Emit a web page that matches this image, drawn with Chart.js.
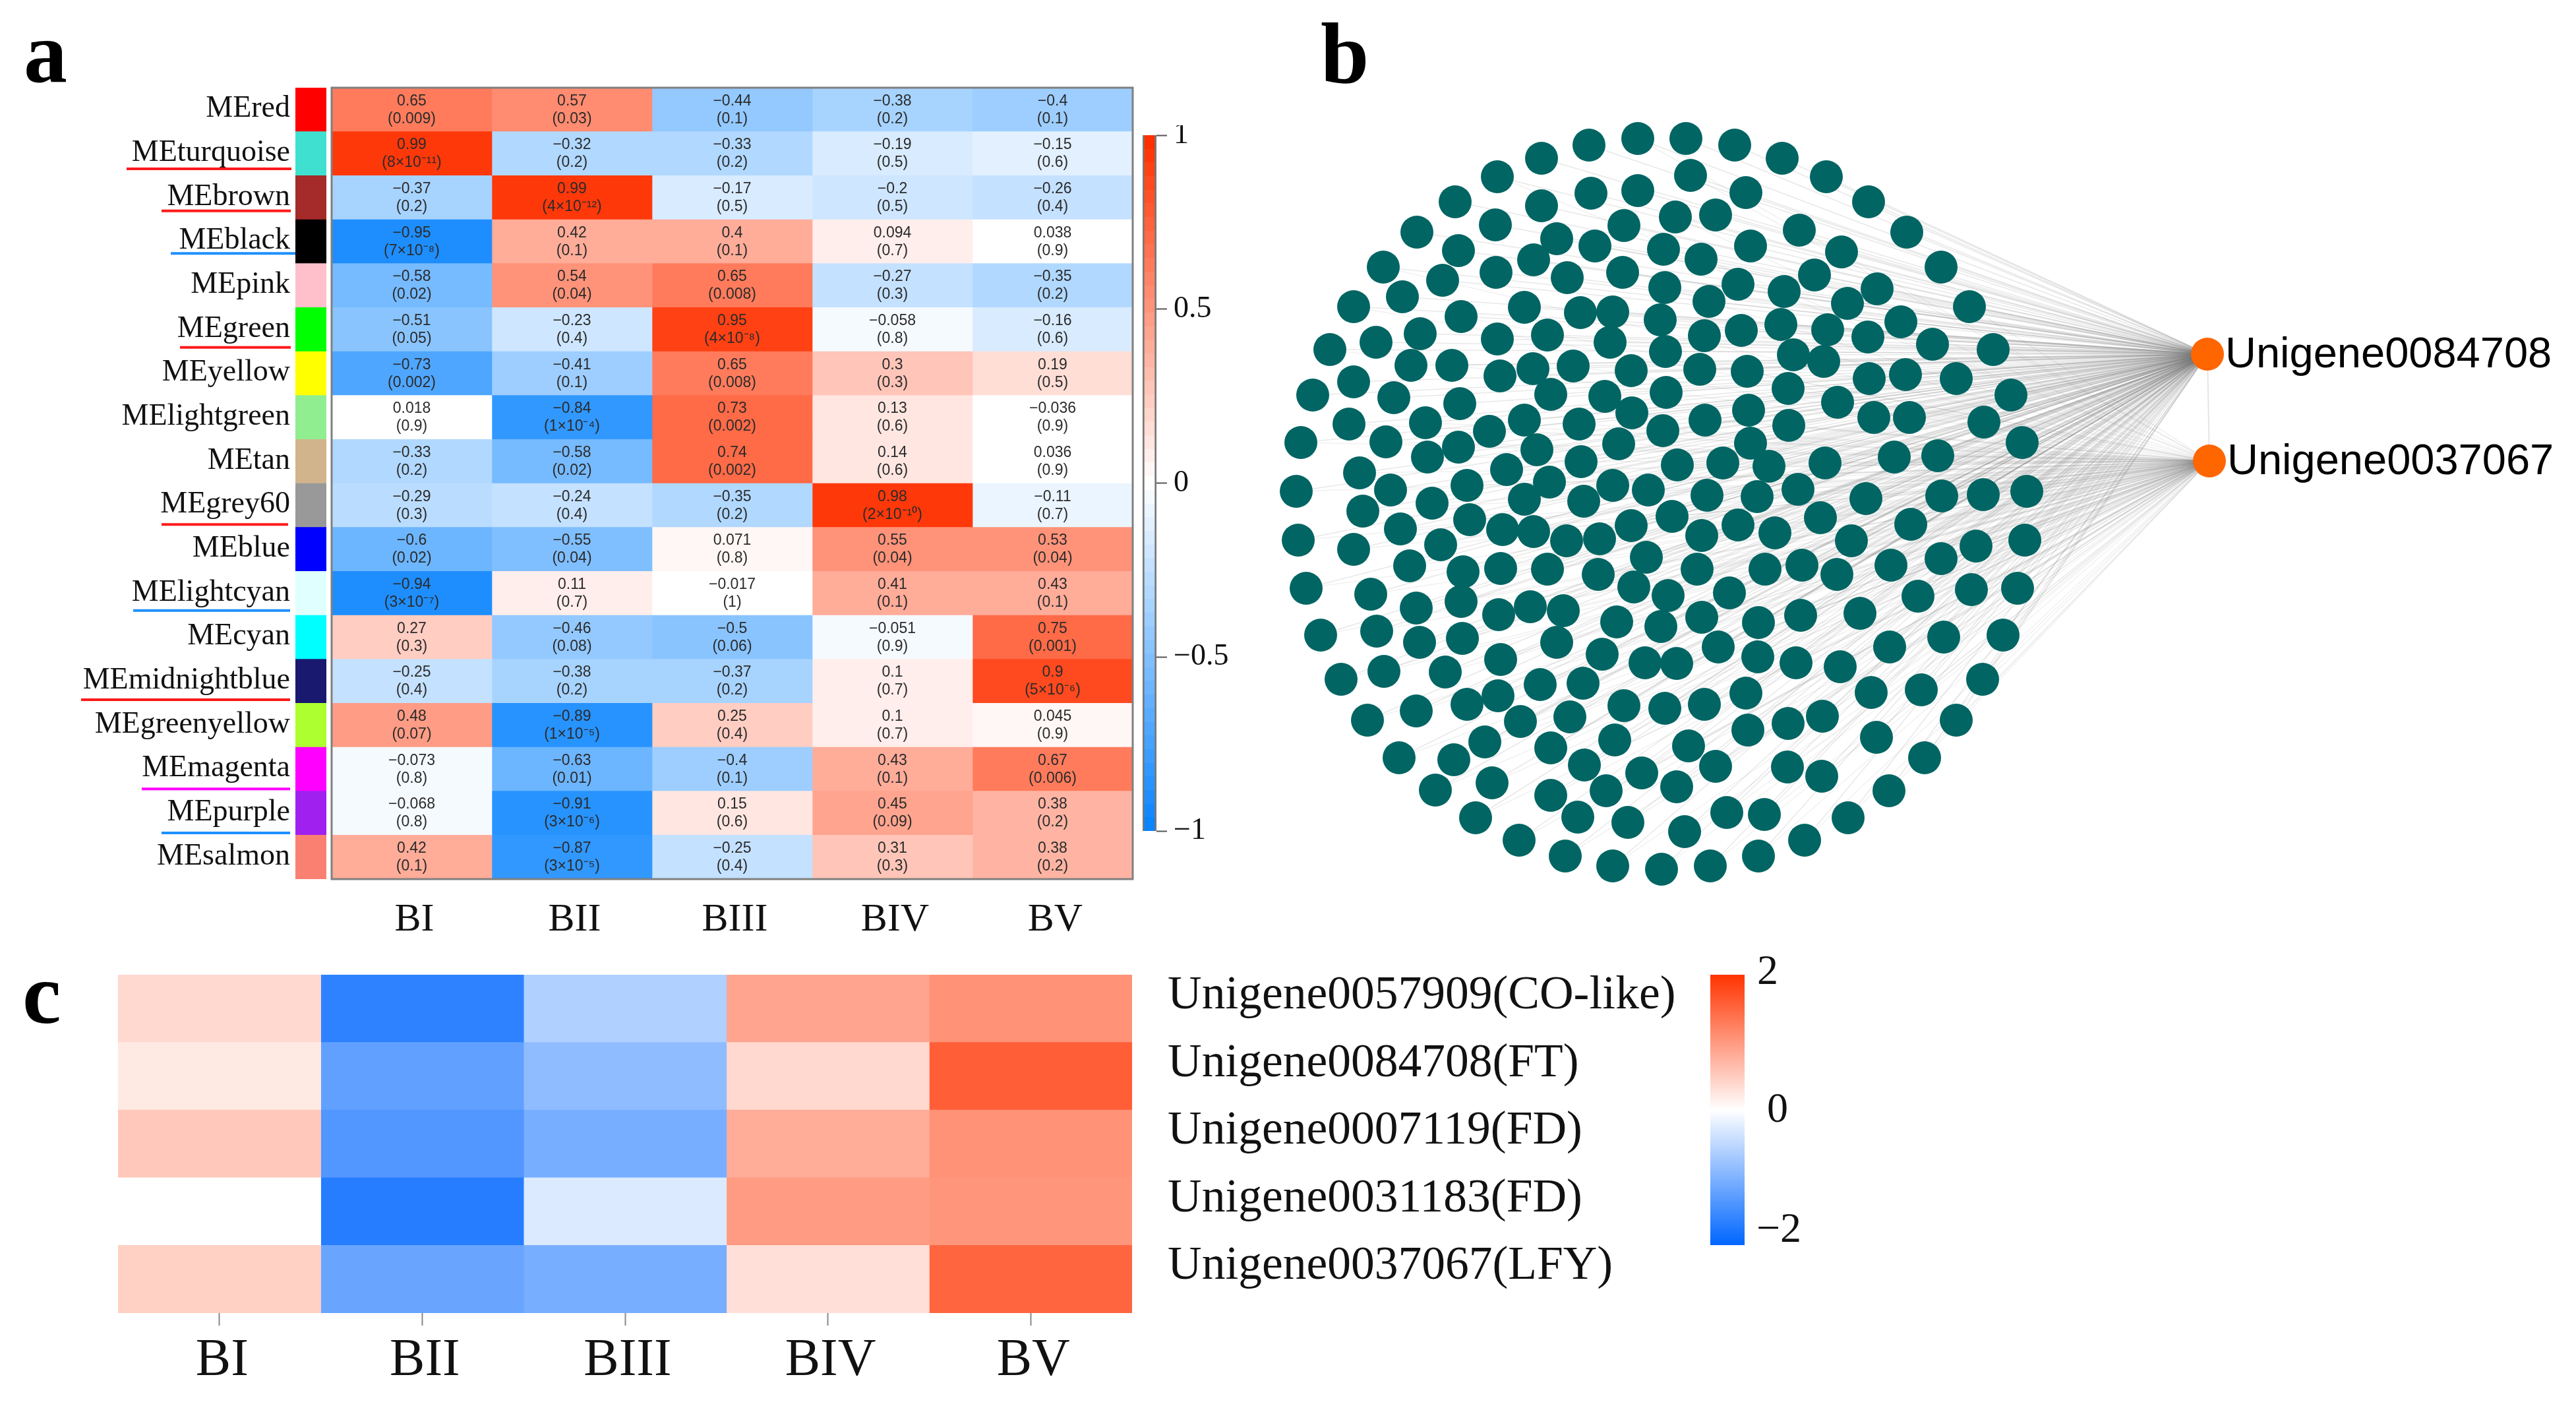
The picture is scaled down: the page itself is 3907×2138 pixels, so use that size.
<!DOCTYPE html>
<html>
<head>
<meta charset="utf-8">
<title>Module trait heatmap and network</title>
<script src="https://cdn.jsdelivr.net/npm/chart.js@4"></script>
<style>
  html, body { margin: 0; padding: 0; background: #fff; }
  #page { position: relative; width: 3907px; height: 2138px; overflow: hidden; background: #fff; }
  canvas { position: absolute; }
  .panel { position: absolute; font: bold 132px "Liberation Serif", serif; line-height: 1; color: #000; }
</style>
</head>
<body>
<div id="page">
  <canvas id="stripA" style="left:0;top:120px" width="495" height="1340"></canvas>
  <canvas id="heatA" style="left:490px;top:120px" width="1240" height="1340"></canvas>
  <canvas id="barA" style="left:1725px;top:190px" width="200" height="1090"></canvas>
  <canvas id="network" style="left:1900px;top:150px" width="2007" height="1250"></canvas>
  <canvas id="heatC" style="left:0;top:1440px" width="2560" height="698"></canvas>
  <canvas id="barC" style="left:2560px;top:1440px" width="200" height="470"></canvas>
  <div class="panel" style="left:36px;top:14px">a</div>
  <div class="panel" style="left:2003px;top:15px">b</div>
  <div class="panel" style="left:34px;top:1441px">c</div>
</div>
<script>
// panel a
var stages = ["BI", "BII", "BIII", "BIV", "BV"];
var modules = ["MEred", "MEturquoise", "MEbrown", "MEblack", "MEpink", "MEgreen", "MEyellow", "MElightgreen", "MEtan",
  "MEgrey60", "MEblue", "MElightcyan", "MEcyan", "MEmidnightblue", "MEgreenyellow", "MEmagenta", "MEpurple", "MEsalmon"];
var moduleColours = ["#ff0000", "#40e0d0", "#a52a2a", "#000000", "#ffc0cb", "#00ff00", "#ffff00", "#90ee90", "#d2b48c",
  "#999999", "#0000ff", "#e0ffff", "#00ffff", "#191970", "#adff2f", "#ff00ff", "#a020f0", "#fa8072"];

var corrBI = [0.65, 0.99, -0.37, -0.95, -0.58, -0.51, -0.73, 0.018, -0.33, -0.29, -0.6, -0.94, 0.27, -0.25, 0.48, -0.073, -0.068, 0.42];
var corrBII = [0.57, -0.32, 0.99, 0.42, 0.54, -0.23, -0.41, -0.84, -0.58, -0.24, -0.55, 0.11, -0.46, -0.38, -0.89, -0.63, -0.91, -0.87];
var corrBIII = [-0.44, -0.33, -0.17, 0.4, 0.65, 0.95, 0.65, 0.73, 0.74, -0.35, 0.071, -0.017, -0.5, -0.37, 0.25, -0.4, 0.15, -0.25];
var corrBIV = [-0.38, -0.19, -0.2, 0.094, -0.27, -0.058, 0.3, 0.13, 0.14, 0.98, 0.55, 0.41, -0.051, 0.1, 0.1, 0.43, 0.45, 0.31];
var corrBV = [-0.4, -0.15, -0.26, 0.038, -0.35, -0.16, 0.19, -0.036, 0.036, -0.11, 0.53, 0.43, 0.75, 0.9, 0.045, 0.67, 0.38, 0.38];

var pBI = ["0.009", "8×10⁻¹¹", "0.2", "7×10⁻⁸", "0.02", "0.05", "0.002", "0.9", "0.2", "0.3", "0.02", "3×10⁻⁷", "0.3", "0.4", "0.07", "0.8", "0.8", "0.1"];
var pBII = ["0.03", "0.2", "4×10⁻¹²", "0.1", "0.04", "0.4", "0.1", "1×10⁻⁴", "0.02", "0.4", "0.04", "0.7", "0.08", "0.2", "1×10⁻⁵", "0.01", "3×10⁻⁶", "3×10⁻⁵"];
var pBIII = ["0.1", "0.2", "0.5", "0.1", "0.008", "4×10⁻⁸", "0.008", "0.002", "0.002", "0.2", "0.8", "1", "0.06", "0.2", "0.4", "0.1", "0.6", "0.4"];
var pBIV = ["0.2", "0.5", "0.5", "0.7", "0.3", "0.8", "0.3", "0.6", "0.6", "2×10⁻¹⁰", "0.04", "0.1", "0.9", "0.7", "0.7", "0.1", "0.09", "0.3"];
var pBV = ["0.1", "0.6", "0.4", "0.9", "0.2", "0.6", "0.5", "0.9", "0.9", "0.7", "0.04", "0.1", "0.001", "5×10⁻⁶", "0.9", "0.006", "0.2", "0.2"];

var corrColumns = [corrBI, corrBII, corrBIII, corrBIV, corrBV];
var pColumns = [pBI, pBII, pBIII, pBIV, pBV];
var corrTicks = [1, 0.5, 0, -0.5, -1];

// panel b, node positions as they sit in the network layout
var nodeX = [2484, 2557, 2410, 2631, 2338, 2703, 2271, 2770, 2207, 2834, 2149, 2892, 2564, 2484, 2413, 2648, 2338, 2602, 2541, 2463,
  2268, 2729, 2361, 2419, 2523, 2655, 2212, 2793, 2326, 2580, 2098, 2269, 2188, 2461, 2752, 2377, 2525, 2636, 2847, 2706,
  2127, 2802, 2053, 2592, 2312, 2446, 2397, 2518, 2216, 2701, 2883, 2772, 2154, 2271, 2641, 2347, 2585, 2833, 2442, 2087,
  2017, 2526, 2720, 2766, 2140, 2202, 2386, 2325, 2578, 2053, 2275, 2474, 2650, 2835, 2890, 1991, 2114, 2527, 2712, 2352,
  2434, 2214, 2787, 2652, 2475, 2842, 2896, 2162, 2046, 2312, 2586, 2259, 2522, 2713, 2395, 2102, 1973, 2212, 2655, 2455,
  2331, 2165, 2398, 2544, 2613, 2683, 2768, 2873, 2062, 1966, 2109, 2285, 2350, 2225, 2312, 2172, 2402, 2446, 2500, 2589,
  2665, 2727, 2830, 2067, 2229, 2124, 2279, 2326, 2536, 2636, 2474, 2761, 2898, 2692, 2376, 2426, 1969, 2185, 2581, 2808,
  2053, 2497, 2138, 2276, 2347, 2219, 2574, 2677, 2733, 2786, 2868, 2424, 1981, 2478, 2530, 2079, 2623, 2216, 2148, 2321,
  2371, 2731, 2821, 2273, 2581, 2452, 2519, 2667, 2088, 2003, 2153, 2218, 2361, 2606, 2866, 2430, 2276, 2495, 2543, 2666,
  2724, 2791, 2099, 2192, 2034, 2336, 2401, 2648, 2838, 2272, 2463, 2225, 2585, 2525, 2148, 2381, 2306, 2712, 2764, 2651,
  2074, 2846, 2449, 2252, 2561, 2352, 2122, 2205, 2711, 2403, 2602, 2490, 2763, 2263, 2436, 2543, 2177, 2865, 2352, 2619,
  2676, 2238, 2393, 2469, 2803, 2555, 2304, 2737, 2667, 2374, 2446, 2594, 2520, 2944, 2987, 3023, 3050, 3067, 3074, 3071,
  3060, 3038, 2931, 2967, 3009, 2939, 2945, 3008, 2997, 2944, 2909, 2990, 2948, 3007, 2967, 2919, 2914];
var nodeY = [210, 210, 220, 220, 240, 240, 268, 268, 306, 306, 352, 352, 266, 289, 293, 292, 312, 326, 329, 342,
  341, 349, 362, 373, 378, 373, 380, 382, 394, 393, 405, 413, 425, 413, 417, 421, 436, 431, 438, 442,
  450, 460, 465, 457, 466, 473, 474, 485, 480, 492, 488, 500, 506, 514, 501, 508, 509, 511, 519, 519,
  530, 533, 538, 548, 554, 554, 555, 559, 560, 579, 570, 562, 563, 574, 568, 599, 603, 595, 589, 598,
  601, 612, 610, 622, 626, 633, 633, 641, 643, 637, 637, 654, 653, 645, 643, 670, 671, 678, 672, 673,
  682, 693, 700, 705, 702, 707, 702, 693, 717, 745, 743, 712, 731, 736, 757, 763, 760, 736, 743, 751,
  753, 742, 756, 775, 788, 802, 803, 806, 783, 796, 797, 785, 795, 808, 820, 817, 819, 826, 812, 820,
  833, 845, 858, 862, 863, 867, 863, 863, 857, 871, 857, 871, 892, 890, 903, 901, 899, 912, 922, 920,
  926, 933, 930, 932, 936, 943, 950, 944, 957, 963, 974, 968, 974, 981, 981, 992, 1000, 1005, 1006, 996,
  1005, 1011, 1018, 1019, 1030, 1038, 1036, 1051, 1050, 1055, 1070, 1068, 1068, 1074, 1078, 1087, 1094, 1097, 1086, 1107,
  1092, 1118, 1122, 1125, 1131, 1134, 1149, 1152, 1163, 1160, 1162, 1172, 1177, 1187, 1199, 1193, 1198, 1199, 1206, 1232,
  1235, 1240, 1239, 1247, 1240, 1261, 1274, 1274, 1298, 1298, 1313, 1313, 1318, 405, 465, 530, 599, 671, 745, 819,
  892, 963, 522, 574, 640, 691, 752, 750, 828, 847, 904, 894, 966, 1030, 1092, 1149, 1046];
var hubNames = ["Unigene0084708", "Unigene0037067"];
var hubX = [3348, 3351];
var hubY = [537, 699];

// panel c
var genes = ["Unigene0057909(CO-like)", "Unigene0084708(FT)", "Unigene0007119(FD)", "Unigene0031183(FD)", "Unigene0037067(LFY)"];
var exprBI = [0.37, 0.22, 0.54, 0, 0.46];
var exprBII = [-1.64, -1.24, -1.36, -1.7, -1.18];
var exprBIII = [-0.62, -0.88, -1.06, -0.28, -1.06];
var exprBIV = [0.88, 0.38, 0.81, 0.98, 0.31];
var exprBV = [1.07, 1.58, 1.07, 1.03, 1.5];
var exprColumns = [exprBI, exprBII, exprBIII, exprBIV, exprBV];
var exprTicks = [2, 0, -2];

var SERIF = '"Liberation Serif", serif';
var SANS = '"Liberation Sans", sans-serif';

Chart.defaults.animation = false;
Chart.defaults.responsive = false;
Chart.defaults.devicePixelRatio = 1;
Chart.defaults.events = [];
Chart.defaults.layout.autoPadding = false;
Chart.defaults.plugins.legend.display = false;
Chart.defaults.plugins.tooltip.enabled = false;

function mix(from, to, t) {
  var c = [0, 1, 2].map(function (i) { return Math.round(from[i] + (to[i] - from[i]) * t); });
  return "rgb(" + c.join(",") + ")";
}

// the published colour key moves in 25 steps each way from white
function corrColour(v) {
  var level = Math.trunc(v / 0.04) * 0.04;
  if (level >= 0) return mix([255, 255, 255], [255, 48, 0], Math.min(level, 1));
  return mix([255, 255, 255], [10, 132, 255], Math.min(-level, 1));
}

function exprColour(v) {
  if (v >= 0) return mix([255, 255, 255], [255, 51, 0], v / 2);
  return mix([255, 255, 255], [0, 102, 255], -v / 2);
}

function minusText(v) {
  return String(v).replace("-", "\u2212");
}

// scales reserve room for half a label at each end, which would push the cells off their rows
function fixedWidth(w) {
  return function (scale) {
    scale.width = w;
    scale.paddingTop = 0;
    scale.paddingBottom = 0;
  };
}

function fixedHeight(h) {
  return function (scale) {
    scale.height = h;
    scale.paddingLeft = 0;
    scale.paddingRight = 0;
  };
}

// one stacked horizontal bar per row, one dataset per column
function cellDatasets(columns, colourOf) {
  return columns.map(function (col) {
    return {
      data: col.map(function () { return 1; }),
      backgroundColor: col.map(colourOf),
      borderWidth: 0,
      barPercentage: 1,
      categoryPercentage: 1
    };
  });
}

function stageAxis(extra) {
  return Object.assign({
    type: "linear", min: 0, max: stages.length, stacked: true,
    border: { display: false },
    afterBuildTicks: function (scale) {
      scale.ticks = stages.map(function (s, i) { return { value: i + 0.5 }; });
    }
  }, extra);
}

var cellText = {
  id: "cellText",
  afterDatasetsDraw: function (chart) {
    var c = chart.ctx, x = chart.scales.x, y = chart.scales.y;
    c.save();
    c.font = "23px " + SANS;
    c.fillStyle = "#2b2b2b";
    c.textAlign = "center";
    c.textBaseline = "middle";
    corrColumns.forEach(function (col, i) {
      col.forEach(function (v, r) {
        var px = x.getPixelForValue(i + 0.5), py = y.getPixelForValue(r);
        c.fillText(minusText(v), px, py - 13);
        c.fillText("(" + pColumns[i][r] + ")", px, py + 14);
      });
    });
    var a = chart.chartArea;
    c.strokeStyle = "#808080";
    c.lineWidth = 3;
    c.strokeRect(a.left, a.top, a.right - a.left, a.bottom - a.top);
    c.restore();
  }
};

// red and blue rules hand-drawn under some module names in the figure
var underlines = [
  { row: 1, colour: "#ff1a1a", left: 192, right: 442, dy: 23 },
  { row: 2, colour: "#ff1a1a", left: 245, right: 441, dy: 20 },
  { row: 3, colour: "#1e90ff", left: 259, right: 448, dy: 18 },
  { row: 5, colour: "#ff1a1a", left: 273, right: 441, dy: 27 },
  { row: 9, colour: "#ff1a1a", left: 245, right: 437, dy: 29 },
  { row: 11, colour: "#1e90ff", left: 202, right: 440, dy: 26 },
  { row: 13, colour: "#ff1a1a", left: 123, right: 440, dy: 28 },
  { row: 15, colour: "#ff00ff", left: 215, right: 440, dy: 30 },
  { row: 16, colour: "#1e90ff", left: 245, right: 440, dy: 30 }
];

var underlinePlugin = {
  id: "underlinePlugin",
  afterDraw: function (chart) {
    var c = chart.ctx, y = chart.scales.y;
    c.save();
    c.lineWidth = 4;
    underlines.forEach(function (u) {
      var py = y.getPixelForValue(u.row) + u.dy;
      c.strokeStyle = u.colour;
      c.beginPath();
      c.moveTo(u.left, py);
      c.lineTo(u.right, py);
      c.stroke();
    });
    c.restore();
  }
};

new Chart(document.getElementById("stripA"), {
  type: "bar",
  plugins: [underlinePlugin],
  data: {
    labels: modules,
    datasets: [{ data: modules.map(function () { return 1; }), backgroundColor: moduleColours, borderWidth: 0, barPercentage: 1, categoryPercentage: 1 }]
  },
  options: {
    indexAxis: "y",
    layout: { padding: { top: 13, bottom: 127, left: 0, right: 0 } },
    scales: {
      x: { display: false, min: 0, max: 1 },
      y: {
        grid: { display: false },
        border: { display: false },
        ticks: { font: { family: SERIF, size: 46 }, color: "#111", padding: 0, autoSkip: false, labelOffset: -1 },
        afterFit: fixedWidth(448)
      }
    }
  }
});

new Chart(document.getElementById("heatA"), {
  type: "bar",
  plugins: [cellText],
  data: { labels: modules, datasets: cellDatasets(corrColumns, corrColour) },
  options: {
    indexAxis: "y",
    layout: { padding: { top: 13, left: 13, right: 12, bottom: 0 } },
    scales: {
      x: stageAxis({
        grid: { display: false },
        ticks: {
          font: { family: SERIF, size: 60 }, color: "#111", padding: 18, maxRotation: 0, autoSkip: false, labelOffset: 4,
          callback: function (v) { return stages[v - 0.5]; }
        },
        afterFit: fixedHeight(127)
      }),
      y: { display: false, stacked: true }
    }
  }
});

// colour keys: a single floating bar, filled with a gradient through the chart area
function keyFill(stops) {
  return function (ctx) {
    var a = ctx.chart.chartArea;
    if (!a) return "#fff";
    var g = ctx.chart.ctx.createLinearGradient(0, a.top, 0, a.bottom);
    stops.forEach(function (s) { g.addColorStop(s[0], s[1]); });
    return g;
  };
}

var corrStops = [];
for (var k = 25; k >= -25; k--) {
  var from = (25 - k) / 51, to = (26 - k) / 51;
  var col = corrColour(k * 0.04 + (k < 0 ? -0.001 : 0.001));
  corrStops.push([from, col], [to, col]);
}

new Chart(document.getElementById("barA"), {
  type: "bar",
  data: {
    labels: ["r"],
    datasets: [{
      data: [[-1, 1]], backgroundColor: keyFill(corrStops),
      borderColor: "#777", borderWidth: { left: 3, right: 3, top: 0, bottom: 0 }, borderSkipped: false,
      barPercentage: 1, categoryPercentage: 1
    }]
  },
  options: {
    layout: { padding: { top: 15, bottom: 20, left: 8, right: 0 } },
    scales: {
      x: { display: false },
      y: {
        position: "right", min: -1, max: 1,
        border: { display: false },
        grid: { drawOnChartArea: false, tickLength: 16, tickColor: "#555", tickWidth: 2 },
        afterBuildTicks: function (scale) {
          scale.ticks = corrTicks.map(function (v) { return { value: v }; });
        },
        ticks: { font: { family: SERIF, size: 46 }, color: "#111", padding: 10, callback: minusText },
        afterFit: fixedWidth(171)
      }
    }
  }
});

// network
var geneLabels = {
  id: "geneLabels",
  afterDatasetsDraw: function (chart) {
    var c = chart.ctx, x = chart.scales.x, y = chart.scales.y;
    c.save();
    c.font = "65px " + SANS;
    c.fillStyle = "#000";
    c.textBaseline = "alphabetic";
    hubNames.forEach(function (name, i) {
      c.fillText(name, x.getPixelForValue(hubX[i]) + 27, y.getPixelForValue(hubY[i]) + 20);
    });
    c.restore();
  }
};

function edge(i, h) {
  return {
    showLine: true, pointRadius: 0, borderWidth: 1.5,
    borderColor: h == 0 ? "rgba(110,110,110,0.16)" : "rgba(120,120,120,0.10)",
    data: [{ x: nodeX[i], y: nodeY[i] }, { x: hubX[h], y: hubY[h] }]
  };
}

var edgeSets = [];
nodeX.forEach(function (x, i) {
  edgeSets.push(edge(i, 0));
  if (nodeY[i] > 640 || i % 6 == 0) edgeSets.push(edge(i, 1));
});
edgeSets.push({
  showLine: true, pointRadius: 0, borderWidth: 2, borderColor: "rgba(150,150,150,0.25)",
  data: hubX.map(function (x, i) { return { x: x, y: hubY[i] }; })
});

// the first dataset is painted last, so the nodes go ahead of the edges
new Chart(document.getElementById("network"), {
  type: "scatter",
  plugins: [geneLabels],
  data: {
    datasets: [
      {
        pointRadius: 25, pointBorderWidth: 0, backgroundColor: "#ff6600",
        data: hubX.map(function (x, i) { return { x: x, y: hubY[i] }; })
      },
      {
        pointRadius: 25, pointBorderWidth: 0, backgroundColor: "#006563",
        data: nodeX.map(function (x, i) { return { x: x, y: nodeY[i] }; })
      }
    ].concat(edgeSets)
  },
  options: {
    layout: { padding: 0 },
    scales: {
      x: { display: false, type: "linear", min: 1900, max: 3907 },
      y: { display: false, type: "linear", min: 150, max: 1400, reverse: true }
    }
  }
});

// panel c heatmap
new Chart(document.getElementById("heatC"), {
  type: "bar",
  data: { labels: genes, datasets: cellDatasets(exprColumns, exprColour) },
  options: {
    indexAxis: "y",
    layout: { padding: { top: 38, left: 179, right: 0, bottom: 0 } },
    scales: {
      x: stageAxis({
        grid: { drawOnChartArea: false, tickLength: 19, tickColor: "#888", tickWidth: 2 },
        ticks: {
          font: { family: SERIF, size: 80 }, color: "#111", padding: 6, maxRotation: 0, autoSkip: false, labelOffset: 4,
          callback: function (v) { return stages[v - 0.5]; }
        },
        afterFit: fixedHeight(147)
      }),
      y: {
        position: "right", stacked: true,
        grid: { display: false },
        border: { display: false },
        ticks: { font: { family: SERIF, size: 71.5 }, color: "#111", padding: 46, autoSkip: false, labelOffset: -19 },
        afterFit: fixedWidth(843)
      }
    }
  }
});

var keyLabels = {
  id: "keyLabels",
  afterDraw: function (chart) {
    var c = chart.ctx, y = chart.scales.y;
    var shift = [{ x: 105, y: -3 }, { x: 120, y: 1 }, { x: 104, y: -22 }];
    c.save();
    c.font = "64px " + SERIF;
    c.fillStyle = "#111";
    c.textBaseline = "middle";
    exprTicks.forEach(function (v, i) {
      c.fillText(minusText(v), shift[i].x, y.getPixelForValue(v) + shift[i].y);
    });
    c.restore();
  }
};

new Chart(document.getElementById("barC"), {
  type: "bar",
  plugins: [keyLabels],
  data: {
    labels: ["z"],
    datasets: [{
      data: [[-2, 2]],
      backgroundColor: keyFill([[0, exprColour(2)], [0.5, exprColour(0)], [1, exprColour(-2)]]),
      borderWidth: 0, barPercentage: 1, categoryPercentage: 1
    }]
  },
  options: {
    layout: { padding: { top: 38, bottom: 22, left: 34, right: 114 } },
    scales: {
      x: { display: false },
      y: { display: false, min: -2, max: 2 }
    }
  }
});
</script>
</body>
</html>
